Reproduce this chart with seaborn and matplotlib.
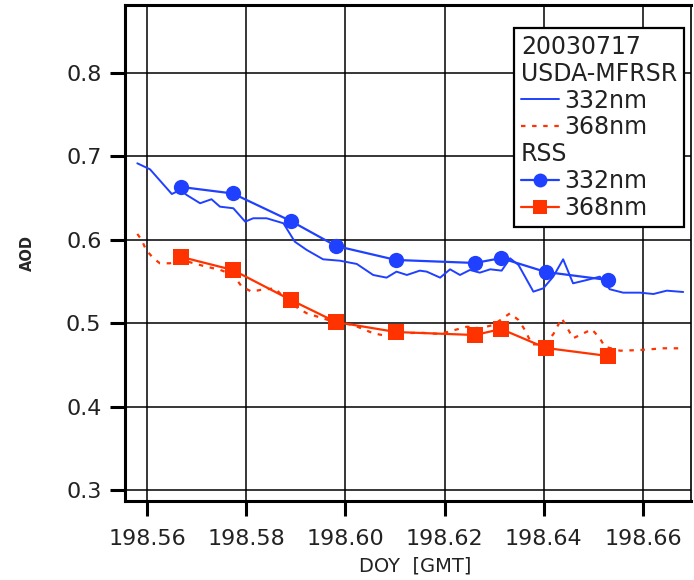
import matplotlib
matplotlib.use("Agg")
import matplotlib.pyplot as plt
import seaborn as sns
import pandas as pd
from matplotlib.lines import Line2D

# ---------------- data ----------------
mfrsr_doy_332 = [198.55804, 198.5606, 198.5650, 198.5667, 198.5680, 198.5707, 198.5730,
                 198.5747, 198.5774, 198.5798, 198.5814, 198.5841, 198.5875, 198.5898,
                 198.5922, 198.5955, 198.5989, 198.6023, 198.6056, 198.6083, 198.6103,
                 198.6124, 198.6150, 198.6164, 198.6191, 198.6211, 198.6231, 198.6251,
                 198.6271, 198.6292, 198.6315, 198.6332, 198.6349, 198.6379, 198.6399,
                 198.6419, 198.6439, 198.6459, 198.6487, 198.6513, 198.6533, 198.6560,
                 198.6594, 198.6621, 198.6648, 198.6681]
mfrsr_aod_332 = [0.6917, 0.6845, 0.6549, 0.6597, 0.6537, 0.6438, 0.6486,
                 0.6397, 0.6378, 0.6217, 0.6258, 0.6258, 0.6198, 0.5977,
                 0.5878, 0.5766, 0.5749, 0.5710, 0.5578, 0.5546, 0.5618,
                 0.5578, 0.5630, 0.5618, 0.5546, 0.5646, 0.5578, 0.5638,
                 0.5606, 0.5646, 0.5630, 0.5778, 0.5698, 0.5378, 0.5418,
                 0.5558, 0.5766, 0.5478, 0.5518, 0.5558, 0.5407, 0.5366,
                 0.5366, 0.5350, 0.5390, 0.5374]

mfrsr_doy_368 = [198.55804, 198.55893, 198.5598, 198.5613, 198.5626, 198.5646, 198.5670,
                 198.5714, 198.5748, 198.5774, 198.5791, 198.5811, 198.5828, 198.5858,
                 198.5888, 198.5922, 198.5976, 198.6016, 198.6056, 198.6083, 198.6117,
                 198.6150, 198.6191, 198.6245, 198.6271, 198.6298, 198.6332, 198.6349,
                 198.6362, 198.6376, 198.6399, 198.6419, 198.6436, 198.6446, 198.6459,
                 198.6473, 198.6497, 198.6513, 198.6523, 198.6554, 198.6594, 198.6641,
                 198.6675]
mfrsr_aod_368 = [0.6070, 0.5998, 0.5878, 0.5778, 0.5718, 0.5718, 0.5758,
                 0.5686, 0.5638, 0.5578, 0.5438, 0.5378, 0.5398, 0.5418,
                 0.5239, 0.5119, 0.5018, 0.4978, 0.4879, 0.4847, 0.4879,
                 0.4886, 0.4871, 0.4958, 0.4939, 0.4978, 0.5119, 0.5038,
                 0.4918, 0.4746, 0.4746, 0.4866, 0.5059, 0.4958, 0.4819,
                 0.4858, 0.4927, 0.4819, 0.4718, 0.4670, 0.4678, 0.4699,
                 0.4699]

rss_doy = [198.5669, 198.5773, 198.5890, 198.5981, 198.6102, 198.6261, 198.6314,
           198.6404, 198.6529]
rss_aod_332 = [0.6633, 0.6555, 0.6225, 0.5926, 0.5758, 0.5722, 0.5780, 0.5614, 0.5518]
rss_aod_368 = [0.5794, 0.5638, 0.5278, 0.5014, 0.4894, 0.4858, 0.4930, 0.4703, 0.4607]

x_ticks = [198.56, 198.58, 198.60, 198.62, 198.64, 198.66]
x_tick_labels = ["198.56", "198.58", "198.60", "198.62", "198.64", "198.66"]
y_ticks = [0.3, 0.4, 0.5, 0.6, 0.7, 0.8]
y_tick_labels = ["0.3", "0.4", "0.5", "0.6", "0.7", "0.8"]

legend_header_date = "20030717"
legend_header_mfrsr = "USDA-MFRSR"
legend_header_rss = "RSS"
label_332 = "332nm"
label_368 = "368nm"

BLUE = "#2040ff"
RED = "#ff3300"
TXT = "#222222"

# ---------------- plot ----------------
sns.set_style("white")
plt.rcParams["font.family"] = ["DejaVu Sans"]

fig = plt.figure(figsize=(6.94, 5.80), dpi=100)
ax = fig.add_axes([125 / 694, 79 / 580, 566 / 694, 496 / 580])

df332 = pd.DataFrame({"doy": mfrsr_doy_332, "aod": mfrsr_aod_332})
df368 = pd.DataFrame({"doy": mfrsr_doy_368, "aod": mfrsr_aod_368})
dfr = pd.DataFrame({"doy": rss_doy, "a332": rss_aod_332, "a368": rss_aod_368})

sns.lineplot(data=df332, x="doy", y="aod", ax=ax, color=BLUE, lw=1.4,
             sort=False, estimator=None, zorder=3)
sns.lineplot(data=df368, x="doy", y="aod", ax=ax, color=RED, lw=1.6,
             sort=False, estimator=None, zorder=3)
ax.lines[-1].set_dashes((2, 3))
sns.lineplot(data=dfr, x="doy", y="a332", ax=ax, color=BLUE, lw=1.6,
             marker="o", markersize=11, markeredgewidth=0, sort=False,
             estimator=None, zorder=4)
sns.lineplot(data=dfr, x="doy", y="a368", ax=ax, color=RED, lw=1.6,
             marker="s", markersize=11, markeredgewidth=0, sort=False,
             estimator=None, zorder=4)

ax.set_xlim(198.55556, 198.66968)
ax.set_ylim(0.2868, 0.8815)
ax.set_xticks(x_ticks)
ax.set_xticklabels(x_tick_labels)
ax.set_yticks(y_ticks)
ax.set_yticklabels(y_tick_labels)

ax.grid(True, color="black", lw=1.1, zorder=1)
ax.set_axisbelow(True)
ax.tick_params(axis="both", direction="out", length=11, width=2.2,
               color="black", labelsize=16, labelcolor=TXT)
ax.tick_params(axis="x", pad=9)
ax.tick_params(axis="y", pad=6)
ax.tick_params(left=True, bottom=True)

for side in ["left", "bottom", "top"]:
    ax.spines[side].set_linewidth(2.2)
    ax.spines[side].set_color("black")
ax.spines["right"].set_linewidth(1.2)
ax.spines["right"].set_color("black")

ax.set_xlabel("DOY  [GMT]", fontsize=14, color=TXT)
ax.xaxis.set_label_coords(0.512, -0.112)
ax.set_ylabel("AOD", fontsize=10.5, fontweight="bold", labelpad=22)

# ---------------- legend ----------------
blank = Line2D([], [], lw=0, alpha=0)
handles = [
    blank, blank,
    Line2D([], [], color=BLUE, lw=1.4),
    Line2D([], [], color=RED, lw=1.6, dashes=(2, 3)),
    blank,
    Line2D([], [], color=BLUE, lw=1.6, marker="o", markersize=10, markeredgewidth=0),
    Line2D([], [], color=RED, lw=1.6, marker="s", markersize=10, markeredgewidth=0),
]
labels = [legend_header_date, legend_header_mfrsr, label_332, label_368,
          legend_header_rss, label_332, label_368]
headers = {legend_header_date, legend_header_mfrsr, legend_header_rss}
leg = ax.legend(handles, labels, loc="upper right", bbox_to_anchor=(0.988, 0.954),
                borderaxespad=0, frameon=True, fancybox=False, fontsize=17,
                handlelength=1.6, handletextpad=0.25, labelspacing=0.12,
                borderpad=0.3, edgecolor="black", framealpha=1)
leg.get_frame().set_linewidth(1.6)
for t in leg.get_texts():
    t.set_color(TXT)
try:
    for col in leg._legend_handle_box.get_children():
        for row in col.get_children():
            da, ta = row.get_children()
            if ta._text.get_text() in headers:
                da.width = 0
                row.sep = 0
except Exception:
    pass

fig.savefig("out.png", dpi=100)
